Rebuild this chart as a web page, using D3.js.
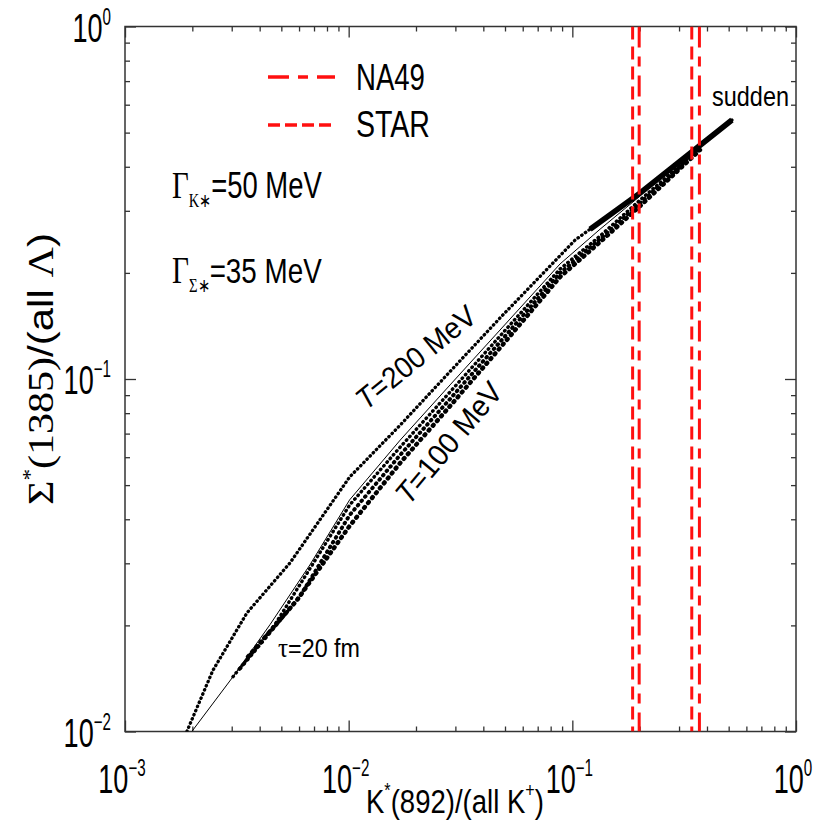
<!DOCTYPE html>
<html>
<head>
<meta charset="utf-8">
<script src="https://cdn.jsdelivr.net/npm/d3@7"></script>
<style>
  body { margin: 0; background: #fff; }
  text { font-family: "Liberation Sans", Arial, sans-serif; fill: #000; }
  .serif { font-family: "Liberation Serif", "Times New Roman", serif; }
</style>
</head>
<body>
<svg id="chart" width="816" height="821"></svg>
<script>
// axis decades and their exponent labels
const xDecades = [1e-3, 1e-2, 1e-1, 1];
const xExps = ["\u22123", "\u22122", "\u22121", "0"];
const yDecades = [1e-2, 1e-1, 1];
const yExps = ["\u22122", "\u22121", "0"];

// T = 200 MeV curve (upper)
const t200X = [0.00189, 0.00247, 0.00351, 0.00547, 0.0101, 0.0170, 0.0284, 0.0475, 0.103, 0.201, 0.517];
const t200Y = [0.0100, 0.0149, 0.0217, 0.0301, 0.0527, 0.0740, 0.105, 0.149, 0.248, 0.337, 0.543];

// thin solid line
const thinX = [0.00199, 0.00304, 0.00445, 0.00671, 0.0101, 0.0170, 0.0284, 0.0475, 0.0881, 0.133, 0.201];
const thinY = [0.0100, 0.0143, 0.0201, 0.0297, 0.0454, 0.0671, 0.0962, 0.1377, 0.212, 0.266, 0.3305];

// intermediate curves
const midAX = [0.00304, 0.00468, 0.0101, 0.0170, 0.0284, 0.0475, 0.0881, 0.133, 0.201, 0.372];
const midAY = [0.0143, 0.0201, 0.0439, 0.0641, 0.0919, 0.1324, 0.2051, 0.2544, 0.322, 0.452];
const midBX = [0.00327, 0.00606, 0.0101, 0.0170, 0.0284, 0.0475, 0.0881, 0.133, 0.201, 0.372];
const midBY = [0.0151, 0.0242, 0.0411, 0.0609, 0.0878, 0.1274, 0.1999, 0.2494, 0.3157, 0.4492];

// T = 100 MeV curve (lower)
const t100X = [0.00355, 0.00588, 0.0101, 0.0170, 0.0284, 0.0475, 0.0881, 0.133, 0.201, 0.372];
const t100Y = [0.0163, 0.0236, 0.0383, 0.0578, 0.0838, 0.1225, 0.1947, 0.2446, 0.3096, 0.4463];

// sudden freeze-out line
const suddenX = [0.120, 0.201, 0.517];
const suddenY = [0.266, 0.337, 0.543];

// experimental bands (vertical lines)
const starX = [0.186, 0.342];
const na49X = [0.199, 0.370];

const margin = {top: 26.5, right: 20, bottom: 89.5, left: 125},
  width = 816 - margin.left - margin.right,
  height = 821 - margin.top - margin.bottom;

const svg = d3.select("#chart");
const g = svg.append("g").attr("transform", "translate(" + margin.left + "," + margin.top + ")");

const x = d3.scaleLog().domain([1e-3, 1]).range([0, width]);
const y = d3.scaleLog().domain([1e-2, 1]).range([height, 0]);

const isDecade = v => Math.abs(Math.log10(v) - Math.round(Math.log10(v))) < 1e-6;
const xMinor = x.ticks().filter(v => !isDecade(v));
const yMinor = y.ticks().filter(v => !isDecade(v));

// ticks pointing inward on all four sides
function ticks(axis, values, size, transform) {
  const a = g.append("g").attr("class", "ax")
    .attr("transform", transform)
    .call(axis.tickValues(values).tickSize(size).tickFormat(""));
  a.select(".domain").remove();
  a.selectAll("line").attr("stroke", "#333").attr("stroke-width", 1.3);
}
ticks(d3.axisBottom(x), xMinor, -5, "translate(0," + height + ")");
ticks(d3.axisBottom(x), xDecades, -11, "translate(0," + height + ")");
ticks(d3.axisTop(x), xMinor, -5, null);
ticks(d3.axisTop(x), xDecades, -11, null);
ticks(d3.axisLeft(y), yMinor, -5, null);
ticks(d3.axisLeft(y), yDecades, -11, null);
ticks(d3.axisRight(y), yMinor, -5, "translate(" + width + ",0)");
ticks(d3.axisRight(y), yDecades, -11, "translate(" + width + ",0)");

g.append("rect").attr("width", width).attr("height", height)
  .attr("fill", "none").attr("stroke", "#333").attr("stroke-width", 1.5);

// tick labels
function powLabel(px, py, exp, anchor) {
  const t = g.append("text")
    .attr("transform", "translate(" + px + "," + py + ") scale(0.66,1)")
    .attr("text-anchor", anchor)
    .style("font-size", "41px");
  t.append("tspan").text("10");
  t.append("tspan").attr("dy", -17).style("font-size", "23px").text(exp);
}
xDecades.forEach((d, i) => powLabel(x(d) - 3, height + 61, xExps[i], "middle"));
yDecades.forEach((d, i) => powLabel(-14, y(d) + 15, yExps[i], "end"));

// curves
g.append("clipPath").attr("id", "clip").append("rect").attr("width", width).attr("height", height);
const plot = g.append("g").attr("clip-path", "url(#clip)");
const line = d3.line().x(d => x(d[0])).y(d => y(d[1]));

function curve(xs, ys, w, dash, cap) {
  plot.append("path")
    .attr("d", line(d3.zip(xs, ys)))
    .attr("fill", "none")
    .attr("stroke", "#000")
    .attr("stroke-width", w)
    .attr("stroke-dasharray", dash)
    .attr("stroke-linecap", cap);
}
curve(thinX, thinY, 1, null, "butt");
curve(t200X, t200Y, 3.3, "0.5,4", "round");
curve(midAX, midAY, 3.4, "0.6,4.3", "round");
curve(midBX, midBY, 3.9, "0.8,4.8", "round");
curve(t100X, t100Y, 4.5, "1,5.3", "round");
curve(suddenX, suddenY, 5.5, null, "butt");

// experimental lines
const red = "#ff1010";
function vline(v, dash) {
  plot.append("line")
    .attr("x1", x(v)).attr("x2", x(v))
    .attr("y1", 0).attr("y2", height)
    .attr("stroke", red).attr("stroke-width", 3)
    .attr("stroke-dasharray", dash);
}
starX.forEach(v => vline(v, "13,7"));
na49X.forEach(v => vline(v, "21,9,10,9"));

// free-positioned labels, squeezed horizontally to a target width
function fit(sel, w) {
  const bb = sel.node().getBBox();
  sel.attr("transform", "scale(" + (w / bb.width) + ",1)");
}
function label(px, py, angle, w, build) {
  const grp = svg.append("g").attr("transform", "translate(" + px + "," + py + ") rotate(" + angle + ")");
  const t = grp.append("text");
  build(t);
  fit(t, w);
  return t;
}

// legend
[["NA49", "21,9,10,9", 77, 90, 69], ["STAR", "12,5", 125, 137, 74]].forEach(function(l) {
  svg.append("line").attr("x1", 268).attr("x2", 335).attr("y1", l[2]).attr("y2", l[2])
    .attr("stroke", red).attr("stroke-width", 3.5).attr("stroke-dasharray", l[1]);
  label(356, l[3], 0, l[4], t => t.style("font-size", "36px").text(l[0]));
});

label(712, 106, 0, 77, t => t.style("font-size", "28px").text("sudden"));

label(172, 198, 0, 150, function(t) {
  t.style("font-size", "36px");
  t.append("tspan").attr("class", "serif").style("font-size", "38px").text("\u0393");
  t.append("tspan").attr("class", "serif").style("font-size", "19px").attr("dy", 9).text("K\u2217");
  t.append("tspan").attr("dy", -9).text("=50 MeV");
});
label(172, 283, 0, 150, function(t) {
  t.style("font-size", "36px");
  t.append("tspan").attr("class", "serif").style("font-size", "38px").text("\u0393");
  t.append("tspan").attr("class", "serif").style("font-size", "19px").attr("dy", 9).text("\u03a3\u2217");
  t.append("tspan").attr("dy", -9).text("=35 MeV");
});

label(366, 411, -39, 145, function(t) {
  t.style("font-size", "30px");
  t.append("tspan").style("font-style", "italic").text("T");
  t.append("tspan").text("=200 MeV");
});
label(409, 506, -50, 148, function(t) {
  t.style("font-size", "30px");
  t.append("tspan").style("font-style", "italic").text("T");
  t.append("tspan").text("=100 MeV");
});

label(278, 657, 0, 82, function(t) {
  t.style("font-size", "26px");
  t.append("tspan").attr("class", "serif").style("font-size", "28px").text("\u03c4");
  t.append("tspan").text("=20 fm");
});

// axis titles
label(366, 813, 0, 178, function(t) {
  t.style("font-size", "34px");
  t.append("tspan").text("K");
  t.append("tspan").attr("dy", -16).style("font-size", "20px").text("*");
  t.append("tspan").attr("dy", 16).text("(892)/(all K");
  t.append("tspan").attr("dy", -16).style("font-size", "20px").text("+");
  t.append("tspan").attr("dy", 16).text(")");
});
label(53, 505, -90, 272, function(t) {
  t.style("font-size", "36px");
  t.append("tspan").attr("class", "serif").text("\u03a3");
  t.append("tspan").attr("class", "serif").attr("dy", -16).style("font-size", "20px").text("*");
  t.append("tspan").attr("class", "serif").attr("dy", 16).text("(1385)");
  t.append("tspan").text("/(all ");
  t.append("tspan").attr("class", "serif").text("\u039b");
  t.append("tspan").text(")");
});
</script>
</body>
</html>
